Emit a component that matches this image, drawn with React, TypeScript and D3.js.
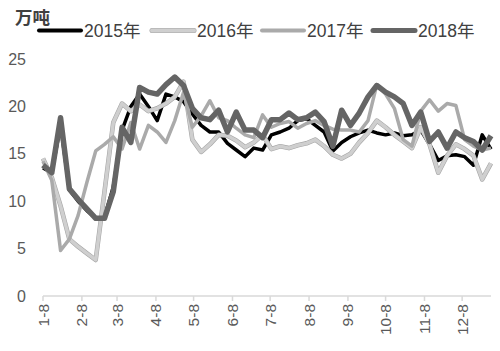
import * as d3 from 'd3';

// weekly series, 52 weeks starting 1-8
const years = ['2015年', '2016年', '2017年', '2018年'];
const colors = ['#000000', '#cfcfcf', '#aaaaaa', '#656565'];
const widths = [3.5, 3.5, 3.5, 5.5];

const v2015 = [
  13.5, 13.0, 18.0, 11.2, 10.0, 9.0, 8.2, 8.3, 11.5, 17.5, 20.0, 21.3, 20.0,
  18.5, 21.3, 21.0, 20.5, 19.2, 18.0, 17.3, 17.3, 16.1, 15.4, 14.7, 15.6, 15.4,
  17.0, 17.3, 17.7, 18.5, 18.7, 18.0, 17.3, 15.3, 16.2, 16.8, 17.2, 17.5, 17.2,
  17.0, 17.2, 16.9, 17.0, 17.5, 16.0, 14.3, 14.8, 14.9, 14.7, 13.8, 17.0, 15.5,
];
const v2016 = [
  14.5, 12.5, 9.5, 6.0, 5.2, 4.5, 3.8, 11.0, 18.3, 20.3, 19.5, 20.2, 19.5,
  19.8, 20.3, 21.0, 22.6, 16.5, 15.2, 16.0, 17.0, 16.9, 16.4, 15.7, 16.2, 17.0,
  15.5, 15.8, 15.6, 15.9, 16.1, 16.5, 15.8, 14.9, 14.5, 15.0, 16.2, 17.2, 18.5,
  17.8, 17.0, 16.3, 15.6, 17.8, 16.0, 13.0, 14.8, 16.0, 15.5, 14.8, 12.3, 14.0,
];
const v2017 = [
  14.2, 12.2, 4.8, 6.0, 8.5, 12.0, 15.3, 16.0, 16.8, 15.5, 18.3, 15.5, 18.0,
  17.3, 16.2, 18.5, 21.5, 17.8, 19.0, 20.6, 18.8, 18.5, 17.7, 17.0, 16.7, 19.1,
  17.8, 18.2, 18.4, 17.7, 18.2, 18.5, 18.0, 17.6, 17.5, 17.5, 17.3, 18.5, 22.3,
  21.3, 19.8, 16.5, 15.8, 19.5, 20.7, 19.5, 20.3, 20.1, 16.5, 15.8, 15.4, 15.6,
];
const v2018 = [
  13.8, 13.0, 18.8, 11.3, 10.2, 9.2, 8.2, 8.2, 11.0, 17.8, 16.2, 22.0, 21.5,
  21.3, 22.3, 23.1, 22.2, 19.8, 18.8, 18.6, 19.6, 17.3, 19.4, 17.5, 17.5, 16.7,
  18.6, 18.6, 19.3, 18.6, 18.8, 19.4, 18.4, 15.8, 19.6, 18.0, 19.3, 21.0, 22.2,
  21.5, 21.0, 20.3, 18.0, 19.4, 16.3, 17.3, 15.6, 17.3, 16.7, 16.3, 15.4, 16.9,
];
const series = [v2015, v2016, v2017, v2018];

const monthLabels = ['1-8', '2-8', '3-8', '4-8', '5-8', '6-8', '7-8', '8-8', '9-8', '10-8', '11-8', '12-8'];
const yTicks = [0, 5, 10, 15, 20, 25];

const start = new Date(2018, 0, 8);
const end = new Date(2018, 11, 31);
const weeks = d3.range(52).map((i) => d3.timeDay.offset(start, i * 7));
const monthDates = monthLabels.map((_, i) => new Date(2018, i, 8));

export default function App() {
  const width = 500;
  const height = 351;
  const x = d3.scaleTime().domain([start, end]).range([43, 491]);
  const y = d3.scaleLinear().domain([0, 25]).range([296, 59]);

  const line = d3
    .line<number>()
    .x((_, i) => x(weeks[i]))
    .y((d) => y(d));

  const font = '"Liberation Sans", Arial, "Noto Sans CJK SC", sans-serif';
  const legendX = [39, 152, 262, 373];

  return (
    <svg
      width={width}
      height={height}
      style={{ position: 'absolute', left: 0, top: 0, background: '#fff' }}
      fontFamily={font}
    >
      <text x={15} y={24} fontSize={17.5} fontWeight="bold" fill="#404040"
        fontFamily='"Noto Sans CJK SC", sans-serif'>
        万吨
      </text>

      {years.map((yr, i) => (
        <g key={yr}>
          {i === 1 && (
            <line x1={legendX[i]} x2={legendX[i] + 42} y1={30.5} y2={30.5}
              stroke="#a5a5a5" strokeWidth={5} strokeLinecap="round" />
          )}
          <line x1={legendX[i]} x2={legendX[i] + 42} y1={30.5} y2={30.5}
            stroke={colors[i]} strokeWidth={i === 3 ? 5 : 4} strokeLinecap="round" />
          <text x={legendX[i] + 45} y={37} fontSize={17.5} fill="#404040">
            {yr}
          </text>
        </g>
      ))}

      {yTicks.map((t) => (
        <text key={t} x={26} y={y(t) + 5.5} textAnchor="end" fontSize={16} fill="#595959">
          {t}
        </text>
      ))}

      <line x1={43} x2={491} y1={296} y2={296} stroke="#d9d9d9" strokeWidth={1.5} />
      {monthDates.map((d, i) => (
        <g key={monthLabels[i]} transform={`translate(${x(d)},296)`}>
          <line y1={0} y2={5} stroke="#d9d9d9" strokeWidth={1.5} />
          <text transform="rotate(-90)" x={-8} y={5.5} textAnchor="end" fontSize={15.5} fill="#595959">
            {monthLabels[i]}
          </text>
        </g>
      ))}

      {series.map((s, i) => (
        <g key={years[i]}>
          {i === 1 && (
            <path d={line(s) ?? ''} fill="none" stroke="#a5a5a5" strokeWidth={4.6} strokeLinejoin="round" />
          )}
          <path d={line(s) ?? ''} fill="none" stroke={colors[i]} strokeWidth={widths[i]} strokeLinejoin="round" />
        </g>
      ))}
    </svg>
  );
}
